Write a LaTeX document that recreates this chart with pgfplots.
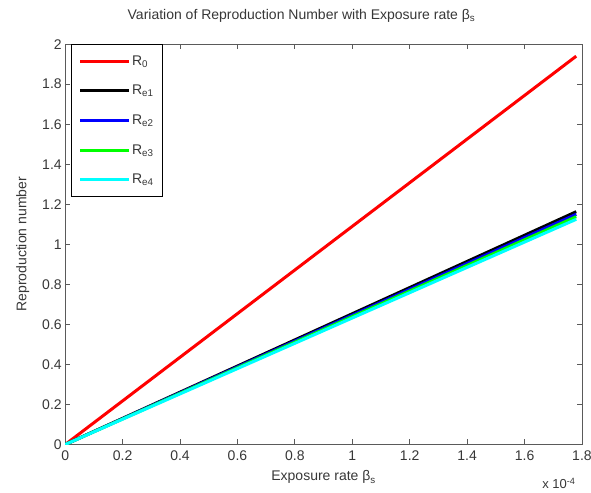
\documentclass[border=0pt]{standalone}
\usepackage{pgfplots}
\pgfplotsset{compat=1.18}
\usepackage{fontspec}
\setmainfont{Liberation Sans}
\definecolor{txt}{RGB}{55,55,55}
\definecolor{axgray}{RGB}{90,90,90}
\definecolor{cyanl}{RGB}{0,255,255}
\definecolor{greenl}{RGB}{0,255,0}
\definecolor{redl}{RGB}{255,0,0}
\definecolor{bluel}{RGB}{0,0,255}
\begin{document}
\begin{tikzpicture}
\begin{axis}[
    scale only axis,
    width=515bp, height=399bp,
    xmin=0, xmax=1.8,
    ymin=0, ymax=2,
    xtick={0,0.2,...,1.8},
    ytick={0,0.2,...,2},
    xticklabels={0,0.2,0.4,0.6,0.8,1,1.2,1.4,1.6,1.8},
    yticklabels={0,0.2,0.4,0.6,0.8,1,1.2,1.4,1.6,1.8,2},
    tick align=inside,
    major tick length=5bp,
    axis line style={axgray, line width=0.8pt},
    every tick/.style={axgray, line width=0.8pt},
    tick label style={font=\fontsize{14}{16}\selectfont, text=txt},
    xticklabel style={yshift=-3bp},
    label style={font=\fontsize{14}{16}\selectfont, text=txt},
    title style={font=\fontsize{14}{16}\selectfont, text=txt, yshift=12bp, xshift=-22bp},
    title={Variation of Reproduction Number with Exposure rate β\textsubscript{s}},
    xlabel={Exposure rate β\textsubscript{s}},
    ylabel={Reproduction number},
    xlabel style={yshift=-3bp},
    ylabel style={yshift=6bp},
    legend style={at={(rel axis cs:0.012,1)}, anchor=north west, draw=black, line width=0.6pt,
        font=\fontsize{14}{16}\selectfont, text=txt, row sep=14.5bp,
        inner xsep=7bp, inner ysep=9bp},
    legend cell align=left,
    legend image code/.code={\draw[#1, line width=3pt] (0cm,0cm) -- (1.7cm,0cm);},
    every axis plot/.append style={line width=3pt},
]
\addplot[redl] coordinates {(0,0) (1.78,1.94)};
\addlegendentry{R\textsubscript{0}}
\addplot[black] coordinates {(0,0) (1.78,1.163)};
\addlegendentry{R\textsubscript{e1}}
\addplot[bluel] coordinates {(0,0) (1.78,1.150)};
\addlegendentry{R\textsubscript{e2}}
\addplot[greenl] coordinates {(0,0) (1.78,1.138)};
\addlegendentry{R\textsubscript{e3}}
\addplot[cyanl] coordinates {(0,0) (1.78,1.125)};
\addlegendentry{R\textsubscript{e4}}
\end{axis}
\node[anchor=north east, font=\fontsize{13}{15}\selectfont, text=txt]
    at ([yshift=-30bp,xshift=-3bp]current axis.south east) {x 10\textsuperscript{-4}};
\pgfresetboundingbox
\path[use as bounding box] (current axis.south west) ++(-65bp,-48bp) rectangle ([xshift=9bp,yshift=44bp]current axis.north east);
\end{tikzpicture}
\end{document}
